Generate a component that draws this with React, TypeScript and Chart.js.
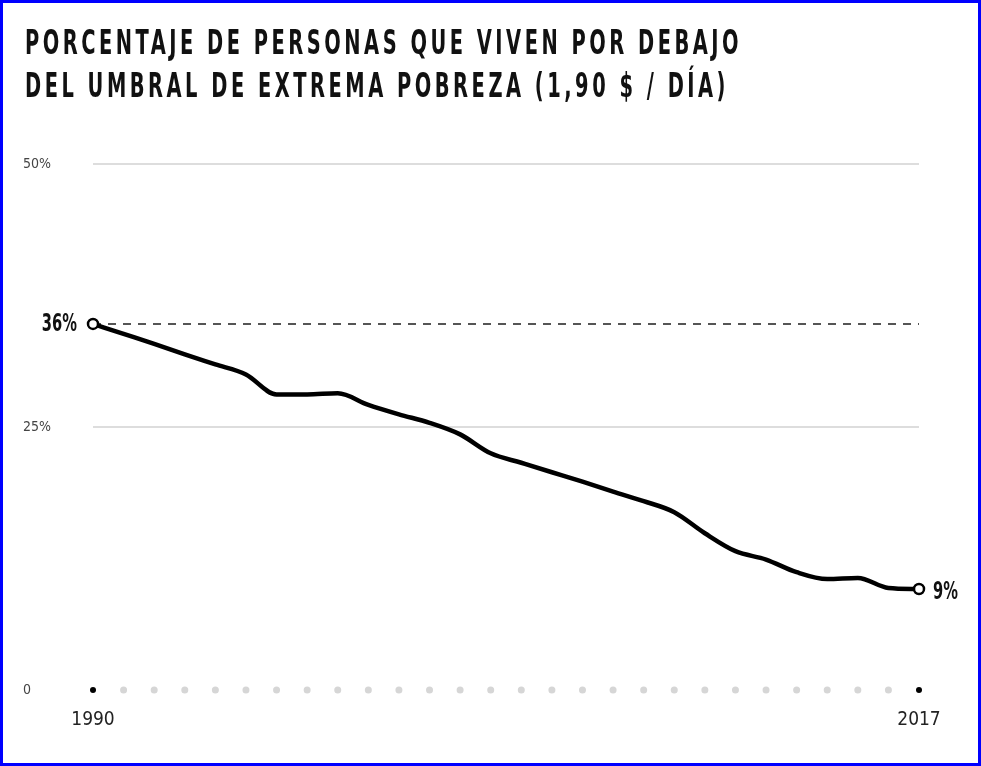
import React, { useEffect, useRef } from "react";
import { Chart, registerables } from "chart.js";

Chart.register(...registerables);

const titleLines = [
  "PORCENTAJE DE PERSONAS QUE VIVEN POR DEBAJO",
  "DEL UMBRAL DE EXTREMA POBREZA (1,90 $ / DÍA)",
];

const years = [
  "1990", "1991", "1992", "1993", "1994", "1995", "1996", "1997", "1998", "1999",
  "2000", "2001", "2002", "2003", "2004", "2005", "2006", "2007", "2008", "2009",
  "2010", "2011", "2012", "2013", "2014", "2015", "2016", "2017",
];

const povertyPct = [
  34.8, 33.85, 32.9, 31.9, 30.95, 30.0, 28.1, 28.1, 28.2, 27.1,
  26.2, 25.4, 24.3, 22.5, 21.6, 20.7, 19.8, 18.85, 17.95, 16.9,
  14.9, 13.2, 12.4, 11.2, 10.55, 10.65, 9.7, 9.6,
];

const axisDots = years.map(() => 0);

const yMin = 0;
const yMax = 50;
const yStep = 25;

const startLabel = "36%";
const endLabel = "9%";

const NARROW = "'DejaVu Sans Condensed', 'Liberation Sans Narrow', sans-serif";

const endLabelsPlugin = {
  id: "endLabels",
  afterDatasetsDraw(chart: any) {
    const meta = chart.getDatasetMeta(2);
    if (!meta || !meta.data.length) return;
    const first = meta.data[0];
    const last = meta.data[meta.data.length - 1];
    const ctx = chart.ctx;
    const sx = 0.68;
    ctx.save();
    ctx.fillStyle = "#111";
    ctx.font = `bold 24px ${NARROW}`;
    ctx.textBaseline = "middle";
    ctx.save();
    ctx.translate(first.x - 16, first.y + 1);
    ctx.scale(sx, 1);
    ctx.textAlign = "right";
    ctx.fillText(startLabel, 0, 0);
    ctx.restore();
    ctx.save();
    ctx.translate(last.x + 14, last.y + 4);
    ctx.scale(sx, 1);
    ctx.textAlign = "left";
    ctx.fillText(endLabel, 0, 0);
    ctx.restore();
    ctx.restore();
  },
};

export default function App() {
  const canvasRef = useRef<HTMLCanvasElement | null>(null);

  useEffect(() => {
    const canvas = canvasRef.current;
    if (!canvas) return;
    const lastIdx = years.length - 1;
    const chart = new Chart(canvas, {
      type: "line",
      data: {
        labels: years,
        datasets: [
          {
            label: "axis",
            data: axisDots,
            showLine: false,
            pointRadius: years.map((_, i) => (i === 0 || i === lastIdx ? 3 : 3.5)),
            pointBackgroundColor: years.map((_, i) =>
              i === 0 || i === lastIdx ? "#000" : "#d6d6d6"
            ),
            pointBorderWidth: 0,
            pointBorderColor: "transparent",
            clip: false,
            order: 3,
          } as any,
          {
            label: "ref",
            data: years.map(() => povertyPct[0]),
            borderColor: "#555",
            borderWidth: 2,
            borderDash: [8, 7],
            pointRadius: 0,
            fill: false,
            clip: false,
            order: 2,
          } as any,
          {
            label: "pobreza",
            data: povertyPct,
            borderColor: "#000",
            borderWidth: 4.5,
            cubicInterpolationMode: "monotone",
            pointRadius: years.map((_, i) => (i === 0 || i === lastIdx ? 5 : 0)),
            pointBackgroundColor: "#fff",
            pointBorderColor: "#000",
            pointBorderWidth: 2.5,
            fill: false,
            clip: false,
            order: 1,
          } as any,
        ],
      },
      options: {
        responsive: false,
        animation: false,
        devicePixelRatio: 1,
        layout: { padding: { left: 23, right: 62, top: 164, bottom: 0 } },
        plugins: {
          legend: { display: false },
          tooltip: { enabled: false },
          title: { display: false },
        },
        scales: {
          x: {
            type: "category",
            offset: false,
            grid: { display: false, drawTicks: false },
            border: { display: false },
            ticks: {
              autoSkip: false,
              maxRotation: 0,
              minRotation: 0,
              padding: 19,
              color: "#222",
              font: { family: NARROW, size: 19 },
              callback: (_v: any, i: number) =>
                i === 0 || i === lastIdx ? years[i] : "",
            },
            afterFit: (axis: any) => {
              axis.height = 76;
            },
          },
          y: {
            min: yMin,
            max: yMax,
            grid: {
              drawTicks: false,
              lineWidth: 2,
              color: (c: any) => (c.tick && c.tick.value === 0 ? "transparent" : "#dddddd"),
            },
            border: { display: false },
            ticks: {
              stepSize: yStep,
              crossAlign: "far",
              padding: 0,
              color: "#444",
              font: { family: NARROW, size: 14 },
              callback: (v: any) => (v === 0 ? "0" : `${v}%`),
            },
            afterFit: (axis: any) => {
              axis.width = 70;
            },
          },
        },
      },
      plugins: [endLabelsPlugin],
    } as any);
    return () => chart.destroy();
  }, []);

  return (
    <div style={{ position: "fixed", left: 0, top: 0, width: 981, height: 766, background: "#fff" }}>
      <canvas
        ref={canvasRef}
        width={981}
        height={766}
        style={{ position: "absolute", left: 0, top: 0, width: 981, height: 766 }}
      />
      <div
        style={{
          position: "absolute",
          left: 25,
          top: 21,
          fontFamily: NARROW,
          fontWeight: "bold",
          fontSize: 34,
          lineHeight: "43px",
          letterSpacing: "5.5px",
          color: "#111",
          whiteSpace: "nowrap",
          transform: "scaleX(0.636)",
          transformOrigin: "0 0",
        }}
      >
        {titleLines.map((t) => (
          <div key={t}>{t}</div>
        ))}
      </div>
      <div
        style={{
          position: "absolute",
          left: 0,
          top: 0,
          width: 981,
          height: 766,
          boxSizing: "border-box",
          border: "3px solid #0000ff",
          pointerEvents: "none",
        }}
      />
    </div>
  );
}
